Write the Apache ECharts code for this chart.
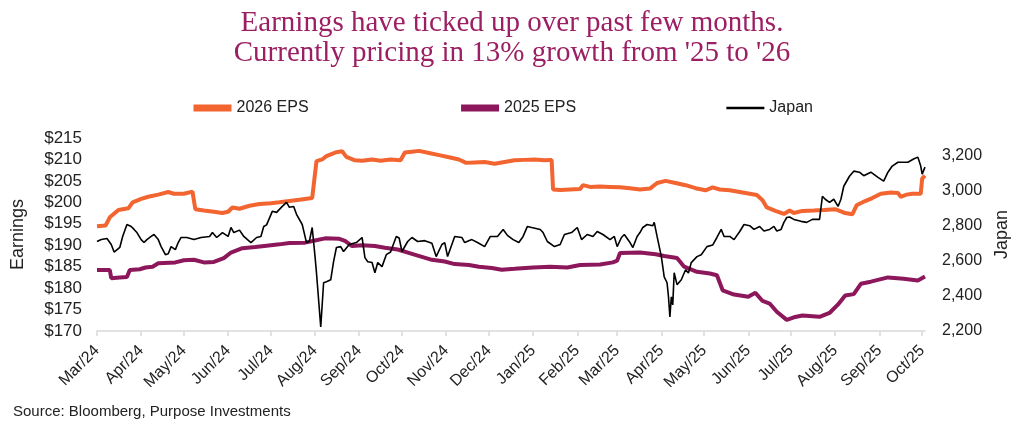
<!DOCTYPE html>
<html>
<head>
<meta charset="utf-8">
<script src="https://cdn.jsdelivr.net/npm/echarts@6.0.0/dist/echarts.min.js"></script>
<style>
html,body{margin:0;padding:0;background:#fff;}
#chart{width:1024px;height:424px;}
</style>
</head>
<body>
<div id="chart"></div>
<script>
const titleText = "Earnings have ticked up over past few months.\nCurrently pricing in 13% growth from '25 to '26";
const sourceText = "Source: Bloomberg, Purpose Investments";
const seriesNames = ['2026 EPS', '2025 EPS', 'Japan'];

const monthStarts = ['2024-03-01','2024-04-01','2024-05-01','2024-06-01','2024-07-01','2024-08-01','2024-09-01','2024-10-01','2024-11-01','2024-12-01','2025-01-01','2025-02-01','2025-03-01','2025-04-01','2025-05-01','2025-06-01','2025-07-01','2025-08-01','2025-09-01','2025-10-01'];
const monthLabels = ['Mar/24','Apr/24','May/24','Jun/24','Jul/24','Aug/24','Sep/24','Oct/24','Nov/24','Dec/24','Jan/25','Feb/25','Mar/25','Apr/25','May/25','Jun/25','Jul/25','Aug/25','Sep/25','Oct/25'];
const leftTicks = [170,175,180,185,190,195,200,205,210,215];
const rightTicks = [2200,2400,2600,2800,3000,3200];

const eps26 = [
['2024-03-01',194.4],['2024-03-07',194.6],['2024-03-10',196.5],['2024-03-16',198.2],['2024-03-23',198.6],['2024-03-26',200.0],['2024-04-01',200.8],['2024-04-06',201.3],['2024-04-13',201.8],['2024-04-20',202.4],['2024-04-24',202.0],['2024-05-01',202.0],['2024-05-07',202.5],['2024-05-09',198.4],['2024-05-15',198.1],['2024-05-22',197.8],['2024-05-28',197.5],['2024-06-01',197.8],['2024-06-04',198.8],['2024-06-09',198.5],['2024-06-16',199.2],['2024-06-23',199.6],['2024-07-01',199.8],['2024-07-07',200.0],['2024-07-14',200.3],['2024-07-21',200.6],['2024-07-30',201.0],['2024-07-31',201.2],['2024-08-02',209.6],['2024-08-06',210.0],['2024-08-09',210.8],['2024-08-16',211.7],['2024-08-20',211.9],['2024-08-23',210.6],['2024-08-29',209.8],['2024-09-03',209.7],['2024-09-10',210.0],['2024-09-16',209.7],['2024-09-23',210.0],['2024-09-30',209.8],['2024-10-03',211.6],['2024-10-08',211.8],['2024-10-13',212.0],['2024-10-20',211.5],['2024-10-27',211.0],['2024-11-03',210.5],['2024-11-10',210.0],['2024-11-15',209.2],['2024-11-21',209.3],['2024-11-28',209.4],['2024-12-05',209.0],['2024-12-12',209.4],['2024-12-19',209.8],['2024-12-26',209.9],['2025-01-02',210.0],['2025-01-09',209.8],['2025-01-14',209.9],['2025-01-15',203.0],['2025-01-20',202.9],['2025-01-27',203.0],['2025-02-03',203.1],['2025-02-05',204.0],['2025-02-10',203.6],['2025-02-17',203.7],['2025-02-24',203.6],['2025-03-03',203.5],['2025-03-10',203.3],['2025-03-17',203.0],['2025-03-24',203.2],['2025-03-29',204.5],['2025-04-04',205.0],['2025-04-11',204.5],['2025-04-18',204.0],['2025-04-25',203.3],['2025-05-02',202.8],['2025-05-07',203.5],['2025-05-12',203.0],['2025-05-19',202.8],['2025-05-26',202.4],['2025-06-02',202.0],['2025-06-07',201.7],['2025-06-11',200.5],['2025-06-14',198.8],['2025-06-20',198.0],['2025-06-26',197.3],['2025-06-30',198.1],['2025-07-03',197.5],['2025-07-09',198.0],['2025-07-17',198.1],['2025-07-24',198.2],['2025-08-01',198.4],['2025-08-08',197.5],['2025-08-13',197.2],['2025-08-16',199.3],['2025-08-22',200.3],['2025-08-27',201.0],['2025-09-02',202.0],['2025-09-09',202.3],['2025-09-14',202.2],['2025-09-16',201.3],['2025-09-20',201.8],['2025-09-24',202.0],['2025-09-30',202.0],['2025-10-01',205.5],['2025-10-03',206.2]
];

const eps25 = [
['2024-03-01',184.2],['2024-03-10',184.2],['2024-03-11',182.3],['2024-03-17',182.5],['2024-03-22',182.6],['2024-03-24',184.2],['2024-03-31',184.4],['2024-04-04',184.8],['2024-04-09',185.0],['2024-04-13',185.8],['2024-04-25',186.0],['2024-05-01',186.5],['2024-05-08',186.6],['2024-05-15',186.0],['2024-05-22',186.1],['2024-05-29',187.0],['2024-06-03',188.3],['2024-06-11',189.3],['2024-06-20',189.6],['2024-06-28',189.9],['2024-07-07',190.2],['2024-07-14',190.5],['2024-07-25',190.6],['2024-08-01',191.1],['2024-08-08',191.6],['2024-08-18',191.5],['2024-08-22',191.0],['2024-08-27',189.8],['2024-09-03',190.0],['2024-09-12',189.8],['2024-09-19',189.4],['2024-09-28',189.0],['2024-10-08',188.0],['2024-10-15',187.3],['2024-10-22',186.6],['2024-10-31',186.2],['2024-11-07',185.6],['2024-11-17',185.4],['2024-11-24',185.0],['2024-12-03',184.7],['2024-12-10',184.3],['2024-12-19',184.5],['2025-01-01',184.8],['2025-01-13',185.0],['2025-01-25',184.8],['2025-02-03',185.4],['2025-02-17',185.5],['2025-02-26',186.0],['2025-03-01',186.4],['2025-03-03',188.2],['2025-03-17',188.3],['2025-03-28',187.9],['2025-04-03',187.5],['2025-04-12',187.0],['2025-04-17',185.0],['2025-04-26',183.8],['2025-05-05',183.4],['2025-05-10',183.0],['2025-05-14',179.5],['2025-05-22',178.5],['2025-06-01',178.0],['2025-06-06',178.9],['2025-06-11',177.0],['2025-06-16',176.4],['2025-06-21',174.5],['2025-06-28',172.6],['2025-07-03',173.2],['2025-07-09',173.6],['2025-07-21',173.3],['2025-07-28',174.2],['2025-08-03',176.2],['2025-08-08',178.3],['2025-08-14',178.6],['2025-08-19',181.0],['2025-08-26',181.5],['2025-09-07',182.5],['2025-09-18',182.2],['2025-09-28',181.8],['2025-10-03',182.7]
];

const japan = [
['2024-03-01',2710],['2024-03-04',2721],['2024-03-08',2727],['2024-03-11',2693],['2024-03-13',2650],['2024-03-17',2676],['2024-03-19',2739],['2024-03-22',2807],['2024-03-25',2796],['2024-03-27',2779],['2024-03-29',2761],['2024-04-01',2721],['2024-04-03',2704],['2024-04-05',2721],['2024-04-08',2739],['2024-04-10',2750],['2024-04-13',2721],['2024-04-15',2681],['2024-04-18',2635],['2024-04-20',2640],['2024-04-22',2681],['2024-04-25',2664],['2024-04-27',2704],['2024-04-29',2733],['2024-05-03',2733],['2024-05-08',2721],['2024-05-13',2733],['2024-05-19',2739],['2024-05-21',2761],['2024-05-24',2733],['2024-05-28',2761],['2024-06-01',2739],['2024-06-03',2790],['2024-06-05',2761],['2024-06-09',2775],['2024-06-12',2739],['2024-06-17',2704],['2024-06-21',2733],['2024-06-24',2739],['2024-06-26',2796],['2024-06-28',2805],['2024-07-02',2882],['2024-07-05',2876],['2024-07-09',2910],['2024-07-12',2933],['2024-07-14',2905],['2024-07-17',2910],['2024-07-19',2865],['2024-07-23',2807],['2024-07-26',2704],['2024-07-28',2710],['2024-07-30',2790],['2024-08-01',2624],['2024-08-02',2532],['2024-08-05',2223],['2024-08-07',2475],['2024-08-09',2481],['2024-08-12',2492],['2024-08-14',2595],['2024-08-16',2676],['2024-08-19',2681],['2024-08-21',2653],['2024-08-25',2693],['2024-08-30',2704],['2024-09-03',2733],['2024-09-05',2618],['2024-09-07',2595],['2024-09-10',2590],['2024-09-12',2532],['2024-09-14',2590],['2024-09-17',2567],['2024-09-20',2635],['2024-09-23',2650],['2024-09-27',2739],['2024-09-29',2730],['2024-10-01',2653],['2024-10-05',2710],['2024-10-08',2733],['2024-10-12',2710],['2024-10-17',2715],['2024-10-22',2700],['2024-10-25',2624],['2024-10-29',2693],['2024-10-31',2704],['2024-11-02',2624],['2024-11-07',2739],['2024-11-12',2733],['2024-11-14',2704],['2024-11-19',2721],['2024-11-23',2704],['2024-11-28',2681],['2024-12-02',2739],['2024-12-07',2739],['2024-12-11',2779],['2024-12-14',2745],['2024-12-18',2721],['2024-12-22',2704],['2024-12-25',2739],['2024-12-28',2796],['2024-12-31',2790],['2025-01-06',2779],['2025-01-08',2761],['2025-01-11',2710],['2025-01-16',2681],['2025-01-20',2693],['2025-01-23',2750],['2025-01-28',2761],['2025-02-01',2790],['2025-02-04',2721],['2025-02-08',2750],['2025-02-12',2739],['2025-02-15',2767],['2025-02-19',2750],['2025-02-24',2721],['2025-02-27',2739],['2025-03-01',2681],['2025-03-04',2733],['2025-03-06',2750],['2025-03-10',2704],['2025-03-12',2676],['2025-03-15',2739],['2025-03-17',2761],['2025-03-19',2790],['2025-03-22',2807],['2025-03-26',2800],['2025-03-27',2819],['2025-03-29',2739],['2025-04-01',2624],['2025-04-03',2509],['2025-04-05',2475],['2025-04-06',2395],['2025-04-07',2280],['2025-04-08',2395],['2025-04-09',2349],['2025-04-10',2532],['2025-04-12',2464],['2025-04-15',2492],['2025-04-18',2549],['2025-04-20',2530],['2025-04-22',2590],['2025-04-26',2624],['2025-04-29',2635],['2025-05-03',2681],['2025-05-07',2690],['2025-05-10',2733],['2025-05-13',2779],['2025-05-15',2739],['2025-05-19',2739],['2025-05-22',2721],['2025-05-26',2767],['2025-05-29',2807],['2025-06-02',2800],['2025-06-05',2779],['2025-06-09',2796],['2025-06-12',2770],['2025-06-16',2779],['2025-06-19',2796],['2025-06-21',2770],['2025-06-24',2779],['2025-06-26',2819],['2025-06-28',2847],['2025-06-30',2850],['2025-07-03',2836],['2025-07-08',2825],['2025-07-12',2819],['2025-07-16',2836],['2025-07-21',2836],['2025-07-23',2968],['2025-07-25',2951],['2025-07-28',2933],['2025-07-31',2951],['2025-08-03',2910],['2025-08-05',2951],['2025-08-07',3025],['2025-08-11',3082],['2025-08-14',3111],['2025-08-18',3105],['2025-08-21',3085],['2025-08-26',3105],['2025-08-31',3076],['2025-09-04',3054],['2025-09-07',3105],['2025-09-10',3140],['2025-09-14',3162],['2025-09-21',3162],['2025-09-25',3180],['2025-09-28',3191],['2025-09-30',3140],['2025-10-01',3094],['2025-10-03',3134]
];

function toTs(s){ const p = s.split('-').map(Number); return new Date(p[0], p[1]-1, p[2]).getTime(); }
const monthTs = monthStarts.map(toTs);
function fmtThousands(v){ return String(v).replace(/\B(?=(\d{3})+(?!\d))/g, ','); }

const chart = echarts.init(document.getElementById('chart'), null, {renderer:'canvas'});
const axisFont = 'Liberation Sans, Arial, sans-serif';
chart.setOption({
  animation:false,
  backgroundColor:'#fff',
  title:{
    text:titleText, left:'center', top:3,
    textStyle:{fontFamily:'Liberation Serif, serif', fontSize:29, fontWeight:'normal', color:'#9B1F62', lineHeight:30}
  },
  legend:{
    top:95, left:185, itemGap:149, itemWidth:38, itemHeight:14,
    textStyle:{fontFamily:axisFont, fontSize:16, color:'#222'},
    data:[
      {name:seriesNames[0], lineStyle:{width:7, color:'#F26430'}, itemStyle:{opacity:0}},
      {name:seriesNames[1], lineStyle:{width:7, color:'#8C175B'}, itemStyle:{opacity:0}},
      {name:seriesNames[2], lineStyle:{width:2.5, color:'#000'}, itemStyle:{opacity:0}}
    ]
  },
  graphic:[{
    type:'text', left:13, top:404,
    style:{text:sourceText, fontFamily:axisFont, fontSize:15, fill:'#222'}
  }],
  grid:{left:97, right:99, top:138, bottom:93},
  xAxis:{
    type:'value', min:toTs(monthStarts[0]), max:toTs('2025-10-03'),
    axisLine:{show:true, onZero:false, lineStyle:{color:'#d9d9d9', width:1.5}},
    axisTick:{show:true, customValues:monthTs, length:5, lineStyle:{color:'#d9d9d9', width:1.5}},
    axisLabel:{
      customValues:monthTs, rotate:45, margin:17, fontSize:16, fontFamily:axisFont, color:'#222', hideOverlap:false,
      formatter:function(v){ const i = monthTs.indexOf(v); return i >= 0 ? monthLabels[i] : ''; }
    },
    splitLine:{show:false}, minorTick:{show:false}
  },
  yAxis:[{
    type:'value', min:170, max:215, interval:5, position:'left',
    name:'Earnings', nameLocation:'middle', nameGap:70, nameRotate:90,
    nameTextStyle:{fontFamily:axisFont, fontSize:18, color:'#222'},
    axisLine:{show:false}, axisTick:{show:false}, splitLine:{show:false},
    axisLabel:{customValues:leftTicks, margin:15, fontSize:17, fontFamily:axisFont, color:'#222', formatter:function(v){return '$'+v;}}
  },{
    type:'value', min:2200, max:3300, interval:200, position:'right',
    name:'Japan', nameLocation:'middle', nameGap:67, nameRotate:90,
    nameTextStyle:{fontFamily:axisFont, fontSize:18, color:'#222'},
    axisLine:{show:false}, axisTick:{show:false}, splitLine:{show:false},
    axisLabel:{customValues:rightTicks, margin:17, fontSize:16, fontFamily:axisFont, color:'#222', formatter:function(v){return fmtThousands(v);}}
  }],
  series:[
    {name:seriesNames[0], type:'line', yAxisIndex:0, data:eps26.map(d=>[toTs(d[0]),d[1]]), symbol:'none', lineStyle:{color:'#F26430', width:4}, itemStyle:{color:'#F26430'}, z:3},
    {name:seriesNames[1], type:'line', yAxisIndex:0, data:eps25.map(d=>[toTs(d[0]),d[1]]), symbol:'none', lineStyle:{color:'#8C175B', width:4}, itemStyle:{color:'#8C175B'}, z:2},
    {name:seriesNames[2], type:'line', yAxisIndex:1, data:japan.map(d=>[toTs(d[0]),d[1]]), symbol:'none', lineStyle:{color:'#000', width:1.6}, itemStyle:{color:'#000'}, z:4}
  ]
});
</script>
</body>
</html>
